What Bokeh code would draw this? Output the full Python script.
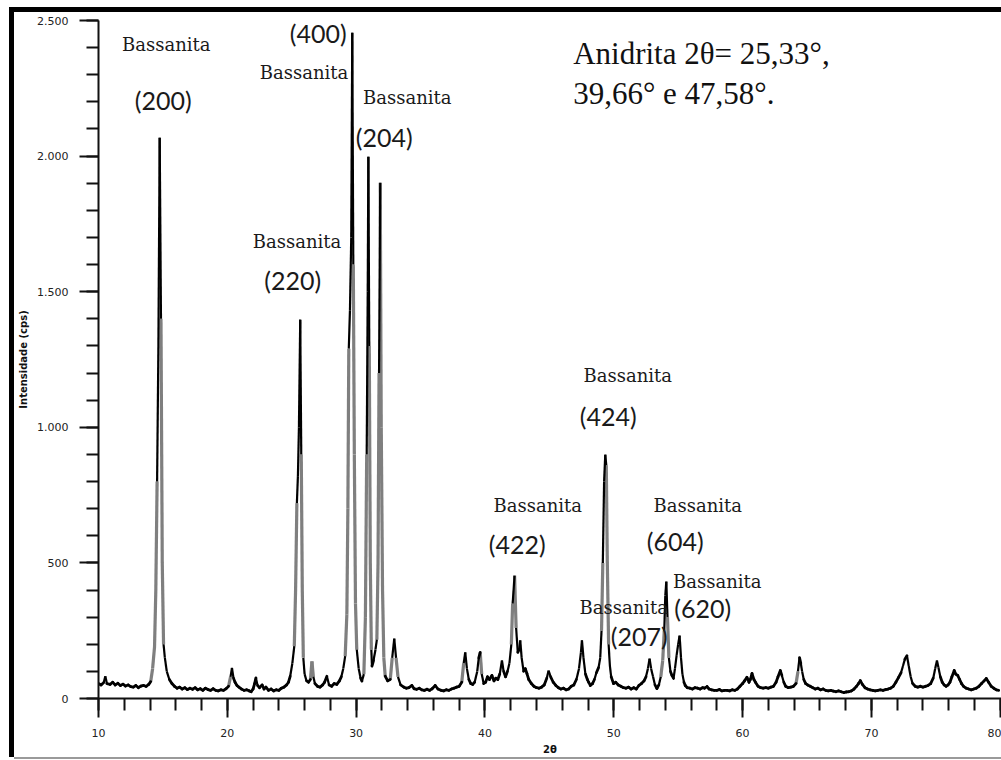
from bokeh.plotting import figure
from bokeh.models import Range1d, SingleIntervalTicker, Div, Spacer
from bokeh.layouts import column, row
from bokeh.core.properties import value
from bokeh.embed import file_html
from bokeh.resources import INLINE

# ---------------- data ----------------
two_theta = [
    10.0, 10.2, 10.4, 10.53, 10.65, 10.9, 11.1, 11.3, 11.5, 11.7, 11.9, 12.1, 12.3, 12.5, 12.7, 12.9,
    13.1, 13.3, 13.5, 13.7, 13.9, 14.05, 14.2, 14.35, 14.45, 14.55, 14.65, 14.75, 14.85, 14.95, 15.05,
    15.15, 15.3, 15.5, 15.7, 15.9, 16.1, 16.3, 16.5, 16.7, 16.9, 17.1, 17.3, 17.5, 17.7, 17.9, 18.1,
    18.3, 18.5, 18.7, 18.9, 19.1, 19.3, 19.5, 19.7, 19.9, 20.1, 20.25, 20.36, 20.48, 20.6, 20.75, 20.9,
    21.1, 21.3, 21.5, 21.7, 21.85, 22.0, 22.12, 22.22, 22.35, 22.5, 22.7, 22.85, 23.0, 23.2, 23.4, 23.6,
    23.8, 24.0, 24.2, 24.4, 24.6, 24.75, 24.88, 25.05, 25.2, 25.3, 25.4, 25.48, 25.56, 25.66, 25.74,
    25.82, 25.9, 26.0, 26.15, 26.3, 26.45, 26.57, 26.68, 26.8, 27.0, 27.2, 27.4, 27.55, 27.73, 27.9,
    28.1, 28.3, 28.5, 28.7, 28.85, 29.0, 29.15, 29.28, 29.36, 29.43, 29.52, 29.62, 29.7, 29.78, 29.86,
    29.95, 30.05, 30.2, 30.35, 30.45, 30.6, 30.72, 30.82, 30.9, 30.95, 31.02, 31.1, 31.18, 31.23, 31.35,
    31.5, 31.61, 31.7, 31.78, 31.87, 31.95, 32.05, 32.15, 32.26, 32.45, 32.65, 32.8, 32.96, 33.1, 33.25,
    33.45, 33.7, 33.9, 34.1, 34.33, 34.5, 34.7, 34.9, 35.1, 35.3, 35.5, 35.7, 35.9, 36.14, 36.35, 36.6,
    36.8, 37.0, 37.2, 37.4, 37.6, 37.8, 38.0, 38.2, 38.35, 38.47, 38.6, 38.75, 38.9, 39.05, 39.2, 39.4,
    39.52, 39.63, 39.75, 39.9, 40.05, 40.2, 40.35, 40.54, 40.7, 40.85, 41.0, 41.15, 41.32, 41.45, 41.6,
    41.75, 41.9, 42.05, 42.15, 42.3, 42.42, 42.55, 42.65, 42.74, 42.85, 43.0, 43.13, 43.26, 43.4, 43.6,
    43.8, 44.0, 44.2, 44.4, 44.6, 44.8, 44.94, 45.1, 45.3, 45.5, 45.7, 45.9, 46.1, 46.3, 46.5, 46.7,
    46.9, 47.1, 47.3, 47.45, 47.53, 47.65, 47.8, 47.95, 48.05, 48.18, 48.35, 48.5, 48.65, 48.82, 48.95,
    49.05, 49.15, 49.25, 49.34, 49.42, 49.5, 49.6, 49.7, 49.8, 49.98, 50.15, 50.35, 50.55, 50.75, 50.95,
    51.15, 51.35, 51.55, 51.75, 51.95, 52.15, 52.35, 52.5, 52.65, 52.78, 52.9, 53.05, 53.2, 53.35, 53.5,
    53.65, 53.8, 53.92, 54.0, 54.08, 54.17, 54.28, 54.4, 54.52, 54.64, 54.75, 54.88, 55.0, 55.11, 55.22,
    55.33, 55.45, 55.55, 55.7, 55.9, 56.1, 56.3, 56.5, 56.7, 56.9, 57.05, 57.24, 57.4, 57.6, 57.8, 58.0,
    58.2, 58.4, 58.6, 58.8, 59.0, 59.2, 59.4, 59.6, 59.8, 60.0, 60.15, 60.34, 60.5, 60.6, 60.73, 60.88,
    61.0, 61.2, 61.4, 61.6, 61.8, 62.0, 62.2, 62.4, 62.6, 62.75, 62.93, 63.05, 63.2, 63.35, 63.55, 63.75,
    63.95, 64.15, 64.3, 64.42, 64.52, 64.62, 64.75, 64.9, 65.05, 65.25, 65.45, 65.65, 65.85, 66.05,
    66.25, 66.45, 66.65, 66.85, 67.05, 67.25, 67.45, 67.65, 67.85, 68.05, 68.25, 68.45, 68.65, 68.85,
    69.0, 69.14, 69.3, 69.5, 69.7, 69.9, 70.1, 70.3, 70.5, 70.7, 70.9, 71.1, 71.3, 71.5, 71.7, 71.9,
    72.11, 72.3, 72.45, 72.6, 72.76, 72.9, 73.05, 73.2, 73.4, 73.6, 73.8, 74.0, 74.2, 74.4, 74.6, 74.8,
    74.95, 75.09, 75.2, 75.35, 75.5, 75.65, 75.8, 75.95, 76.1, 76.25, 76.43, 76.55, 76.7, 76.85, 77.0,
    77.15, 77.35, 77.55, 77.75, 77.95, 78.15, 78.35, 78.55, 78.75, 78.92, 79.1, 79.3, 79.5, 79.7, 79.88,
]
intensity = [
    55, 50, 58, 82, 55, 52, 60, 50, 56, 48, 53, 46, 50, 44, 42, 48,
    40, 46, 48, 45, 52, 62, 110, 190, 400, 800, 1300, 2068, 1400, 500, 200,
    151, 100, 70, 55, 45, 38, 42, 35, 40, 33, 38, 34, 40, 32, 36, 30,
    38, 33, 30, 36, 30, 28, 32, 30, 36, 45, 80, 113, 75, 60, 48, 42,
    35, 30, 32, 28, 25, 35, 55, 76, 48, 40, 50, 35, 42, 30, 35, 28,
    32, 30, 38, 42, 50, 60, 82, 130, 193, 400, 720, 820, 1000, 1397, 900,
    400, 150, 90, 65, 60, 70, 137, 80, 55, 45, 42, 50, 60, 82, 50,
    45, 55, 52, 65, 80, 110, 156, 310, 700, 1290, 1430, 1700, 2455, 1600, 900,
    350, 180, 110, 75, 64, 90, 300, 900, 1500, 1998, 1300, 500, 180, 119, 140,
    180, 217, 500, 1200, 1902, 1000, 400, 150, 82, 65, 70, 150, 221, 150, 80,
    50, 42, 38, 40, 48, 36, 34, 38, 32, 30, 34, 30, 36, 48, 35, 30,
    28, 32, 30, 35, 38, 42, 45, 60, 130, 170, 110, 70, 55, 52, 60, 100,
    150, 170, 90, 55, 60, 80, 70, 85, 65, 75, 70, 90, 140, 100, 80,
    100, 130, 200, 350, 453, 260, 170, 180, 214, 150, 100, 110, 92, 70, 55,
    45, 40, 38, 42, 50, 75, 103, 80, 60, 48, 40, 35, 38, 32, 35, 45,
    50, 70, 110, 170, 214, 150, 90, 70, 60, 48, 55, 70, 95, 114, 150,
    250, 500, 800, 899, 860, 500, 200, 120, 80, 55, 60, 50, 45, 40, 38,
    42, 35, 40, 35, 48, 55, 65, 80, 110, 147, 110, 80, 50, 37, 50,
    80, 140, 250, 380, 431, 300, 150, 100, 85, 74, 110, 160, 200, 232, 150,
    90, 60, 48, 40, 38, 35, 40, 38, 35, 40, 38, 44, 35, 32, 30, 30,
    33, 28, 30, 30, 28, 32, 30, 35, 45, 55, 65, 78, 60, 70, 92, 70,
    60, 45, 40, 38, 40, 38, 42, 45, 60, 80, 103, 85, 60, 45, 40, 42,
    45, 55, 100, 151, 130, 100, 70, 55, 50, 45, 40, 35, 38, 32,
    35, 30, 28, 30, 27, 25, 28, 25, 22, 24, 25, 28, 35, 45,
    55, 66, 52, 40, 35, 32, 30, 28, 30, 32, 30, 33, 35, 38, 45, 60,
    78, 95, 120, 145, 158, 120, 80, 55, 45, 42, 45, 42, 45, 48, 55, 75,
    110, 140, 115, 80, 60, 50, 45, 50, 60, 80, 103, 90, 85, 70, 55,
    45, 38, 35, 32, 35, 38, 45, 55, 65, 74, 60, 45, 38, 32, 30,
]

y_tick_labels = {0: "0", 500: "500", 1000: "1.000", 1500: "1.500", 2000: "2.000", 2500: "2.500"}

phase_names = ["Bassanita"] * 9
hkl_labels = ["(200)", "(400)", "(204)", "(220)", "(424)", "(422)", "(604)", "(620)", "(207)"]
anidrita_lines = ["Anidrita 2\u03b8= 25,33\u00b0,", "39,66\u00b0 e 47,58\u00b0."]

# annotation anchor points (data coordinates)
name_x = [15.26, 25.95, 33.97, 25.41, 51.09, 44.1, 56.52, 58.03, 50.78]
name_y = [2411, 2309, 2215, 1684, 1191, 711, 711, 431, 335]
hkl_x = [15.02, 27.06, 32.18, 25.08, 49.57, 42.5, 54.77, 56.91, 51.98]
hkl_y = [2208, 2455, 2071, 1544, 1043, 568, 582, 335, 229]
anid_x = [46.85, 46.85]
anid_y = [2377, 2229]

# ---------------- figure ----------------
p = figure(width=987, height=745, x_range=Range1d(10, 80.1), y_range=Range1d(0, 2500),
           output_backend="svg", toolbar_location=None,
           min_border_left=84, min_border_right=0, min_border_top=8, min_border_bottom=58)
p.margin = 0
p.xgrid.visible = False
p.ygrid.visible = False
p.outline_line_color = None
p.background_fill_color = "white"
p.border_fill_color = "white"

# segments coloured by steepness (as the instrument trace renders)
px_x = 903 / 70.1
px_y = 679 / 2500.0
gx0, gy0, gx1, gy1 = [], [], [], []
bx0, by0, bx1, by1 = [], [], [], []
tx0, ty0, tx1, ty1 = [], [], [], []
for i in range(len(two_theta) - 1):
    x0, y0, x1, y1 = two_theta[i], intensity[i], two_theta[i + 1], intensity[i + 1]
    dxp = abs(x1 - x0) * px_x
    dyp = abs(y1 - y0) * px_y
    steep = dyp > 3 * dxp and dyp > 6
    if steep:
        if min(y0, y1) >= 0.6 * max(y0, y1):
            tx0.append(x0); ty0.append(y0); tx1.append(x1); ty1.append(y1)
        else:
            gx0.append(x0); gy0.append(y0); gx1.append(x1); gy1.append(y1)
    else:
        bx0.append(x0); by0.append(y0); bx1.append(x1); by1.append(y1)

p.segment(gx0, gy0, gx1, gy1, line_color="#7f7f7f", line_width=3.2)
p.segment(tx0, ty0, tx1, ty1, line_color="#000000", line_width=2.2)
p.segment(bx0, by0, bx1, by1, line_color="#000000", line_width=2.8, line_cap="round")

# annotations
p.text(x=name_x, y=name_y, text=phase_names, text_font=value("DejaVu Serif"),
       text_font_size="18px", text_align="center", text_baseline="middle", text_color="#1a1a1a")
p.text(x=hkl_x, y=hkl_y, text=hkl_labels, text_font=value("Lato"),
       text_font_size="25px", text_align="center", text_baseline="middle", text_color="#1a1a1a")
p.text(x=anid_x, y=anid_y, text=anidrita_lines, text_font=value("Liberation Serif"),
       text_font_size="31px", text_align="left", text_baseline="alphabetic", text_color="#111111")

# axes
for ax in (p.xaxis[0], p.yaxis[0]):
    ax.axis_line_width = 2
    ax.axis_line_color = "#111111"
    ax.major_tick_out = 19
    ax.major_tick_in = 0
    ax.minor_tick_out = 12
    ax.minor_tick_in = 0
    ax.major_tick_line_width = 2
    ax.minor_tick_line_width = 2
    ax.major_tick_line_color = "#111111"
    ax.minor_tick_line_color = "#111111"
    ax.major_label_text_font = "DejaVu Sans"
    ax.major_label_text_font_size = "11px"
    ax.major_label_text_color = "#222222"
    ax.axis_label_text_font = "DejaVu Sans"
    ax.axis_label_text_font_style = "bold"
    ax.axis_label_text_color = "#111111"

p.xaxis[0].ticker = SingleIntervalTicker(interval=10, num_minor_ticks=5)
p.yaxis[0].ticker = SingleIntervalTicker(interval=500, num_minor_ticks=5)
p.yaxis[0].major_label_overrides = y_tick_labels
p.yaxis[0].major_label_standoff = 11
p.xaxis[0].major_label_standoff = 11
p.xaxis[0].axis_label = "2\u03b8"
p.xaxis[0].axis_label_text_font_size = "10px"
p.xaxis[0].axis_label_standoff = 4
p.yaxis[0].axis_label = "Intensidade (cps)"
p.yaxis[0].axis_label_text_font_size = "10px"
p.yaxis[0].axis_label_standoff = 5

# page frame of the scanned figure: black bars top and left, thin grey line at the bottom
def bar(w, h, color):
    return Div(text="", width=w, height=h, margin=0, styles={"background-color": color})

def gap(w, h):
    return Spacer(width=w, height=h, margin=0)

layout = column(
    gap(1001, 7),
    row(gap(9, 5), bar(992, 5, "#000000"), spacing=0, margin=0),
    row(gap(9, 745), bar(5, 745, "#000000"), p, spacing=0, margin=0),
    row(gap(14, 2), bar(987, 2, "#9a9a9a"), spacing=0, margin=0),
    spacing=0, margin=0,
)

open("out.html", "w").write(file_html(layout, INLINE))
